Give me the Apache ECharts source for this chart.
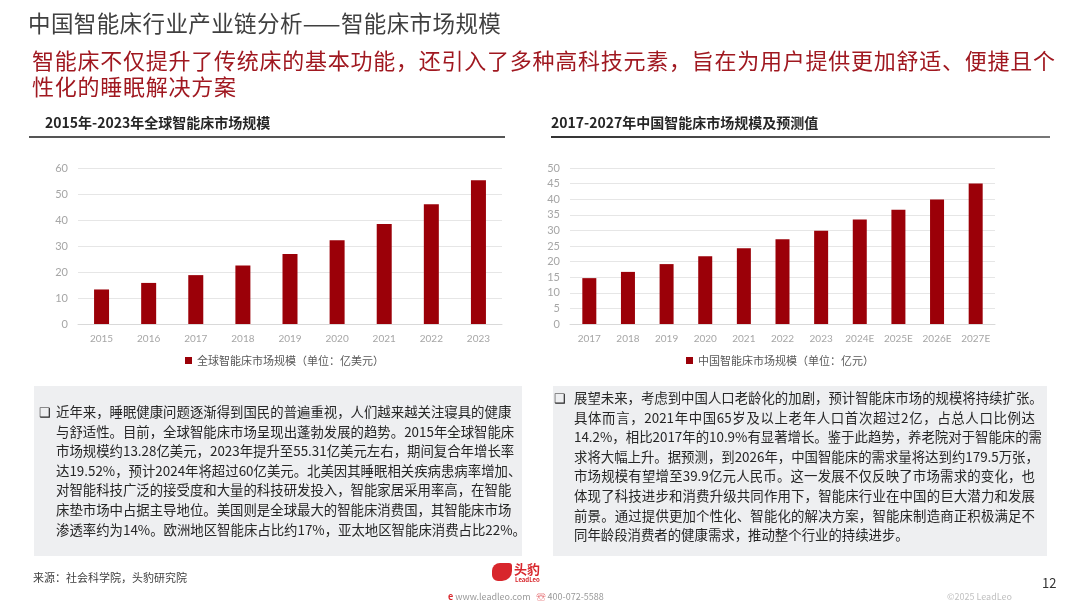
<!DOCTYPE html>
<html><head><meta charset="utf-8">
<script src="https://cdn.jsdelivr.net/npm/echarts@6/dist/echarts.min.js"></script>
<style>
html,body{margin:0;padding:0;width:1080px;height:608px;background:#fff;overflow:hidden;font-family:"Noto Sans CJK SC","Noto Sans",sans-serif;}
#chart{position:absolute;left:0;top:0;width:1080px;height:608px;}
.abs{position:absolute;white-space:nowrap;}
.title{left:28px;top:7px;font-size:22.5px;letter-spacing:0.4px;color:#404040;line-height:30px;}
.sub{left:32px;top:46px;font-size:22px;letter-spacing:0.75px;color:#a01820;line-height:26px;}
.sec{font-size:14px;font-weight:bold;color:#262626;line-height:18px;top:113px;}
.uline{height:2px;background:#555;top:136px;}
.box{background:#eeeff1;top:386px;height:170px;}
.txt{font-size:13.4px;color:#262626;line-height:19.6px;}
.txt div{text-align:justify;text-align-last:justify;white-space:nowrap;}
.txt div.last{text-align-last:left;}
.bul{font-size:13px;color:#262626;}
.foot{font-size:11px;color:#404040;}
</style></head>
<body>
<div id="chart"></div>
<div class="abs title">中国智能床行业产业链分析——智能床市场规模</div>
<div class="abs sub">智能床不仅提升了传统床的基本功能，还引入了多种高科技元素，旨在为用户提供更加舒适、便捷且个<br>性化的睡眠解决方案</div>
<div class="abs sec" style="left:45px;">2015年-2023年全球智能床市场规模</div>
<div class="abs sec" style="left:551px;">2017-2027年中国智能床市场规模及预测值</div>
<div class="abs uline" style="left:29px;width:476px;"></div>
<div class="abs uline" style="left:551px;width:499px;background:linear-gradient(90deg,#333,#777);"></div>

<div class="abs box" style="left:34px;width:488px;"></div>
<div class="abs box" style="left:553px;width:494px;"></div>
<div class="abs bul" style="left:39px;top:402px;">❑</div>
<div class="abs bul" style="left:554px;top:388px;">❑</div>
<div class="abs txt" id="lt" style="left:56px;top:402px;width:452px;"></div>
<div class="abs txt" id="rt" style="left:574px;top:388px;width:461px;"></div>

<div class="abs foot" style="left:33px;top:569px;">来源：社会科学院，头豹研究院</div>
<div class="abs" style="left:492px;top:563px;width:20px;height:18px;background:#d8262c;border-radius:8px 3px 10px 6px;"></div>
<div class="abs" style="left:514px;top:561px;font-size:13px;font-weight:bold;color:#d8262c;line-height:15px;">头豹</div>
<div class="abs" style="left:515px;top:576px;font-size:6px;font-weight:bold;color:#d8262c;line-height:8px;">LeadLeo</div>
<div class="abs" style="left:448px;top:591px;font-size:9px;color:#999;line-height:12px;"><span style="color:#d8262c;font-weight:bold;">e</span> www.leadleo.com &nbsp;&nbsp;<span style="color:#d8262c;">☏</span> 400-072-5588</div>
<div class="abs" style="left:947px;top:591px;font-size:9px;color:#c0c0c0;line-height:12px;">©2025 LeadLeo</div>
<div class="abs" style="left:1042px;top:575px;font-size:13px;color:#333;line-height:16px;">12</div>

<script>
// ---- data ----
const globalYears = ['2015','2016','2017','2018','2019','2020','2021','2022','2023'];
const globalValues = [13.28, 15.8, 18.8, 22.5, 26.9, 32.2, 38.5, 46.1, 55.31];
const globalLegend = '全球智能床市场规模（单位：亿美元）';
const chinaYears = ['2017','2018','2019','2020','2021','2022','2023','2024E','2025E','2026E','2027E'];
const chinaValues = [14.7, 16.7, 19.2, 21.7, 24.3, 27.2, 29.9, 33.5, 36.6, 39.9, 45.0];
const chinaLegend = '中国智能床市场规模（单位：亿元）';
const leftTicks = {min:0, max:60, interval:10};
const rightTicks = {min:0, max:50, interval:5};
const leftText = [
'近年来，睡眠健康问题逐渐得到国民的普遍重视，人们越来越关注寝具的健康',
'与舒适性。目前，全球智能床市场呈现出蓬勃发展的趋势。2015年全球智能床',
'市场规模约13.28亿美元，2023年提升至55.31亿美元左右，期间复合年增长率',
'达19.52%，预计2024年将超过60亿美元。北美因其睡眠相关疾病患病率增加、',
'对智能科技广泛的接受度和大量的科技研发投入，智能家居采用率高，在智能',
'床垫市场中占据主导地位。美国则是全球最大的智能床消费国，其智能床市场',
'渗透率约为14%。欧洲地区智能床占比约17%，亚太地区智能床消费占比22%。'];
const rightText = [
'展望未来，考虑到中国人口老龄化的加剧，预计智能床市场的规模将持续扩张。',
'具体而言，2021年中国65岁及以上老年人口首次超过2亿，占总人口比例达',
'14.2%，相比2017年的10.9%有显著增长。鉴于此趋势，养老院对于智能床的需',
'求将大幅上升。据预测，到2026年，中国智能床的需求量将达到约179.5万张，',
'市场规模有望增至39.9亿元人民币。这一发展不仅反映了市场需求的变化，也',
'体现了科技进步和消费升级共同作用下，智能床行业在中国的巨大潜力和发展',
'前景。通过提供更加个性化、智能化的解决方案，智能床制造商正积极满足不',
'同年龄段消费者的健康需求，推动整个行业的持续进步。'];

function fill(id, lines){
  const el = document.getElementById(id);
  lines.forEach((l,i)=>{
    const d = document.createElement('div');
    d.textContent = l;
    if(i===lines.length-1) d.className='last';
    el.appendChild(d);
  });
}
fill('lt', leftText); fill('rt', rightText);

const BAR = '#9b0008';
const axisFont = {color:'#a6a6a6', fontSize:11, fontFamily:'Lato, "Noto Sans", sans-serif'};
const chart = echarts.init(document.getElementById('chart'));
chart.setOption({
  animation:false,
  grid:[
    {left:78, right:578, top:168, bottom:284},
    {left:570, right:85, top:168, bottom:284}
  ],
  legend:[
    {data:[globalLegend], left:180, top:350, itemWidth:7, itemHeight:7, icon:'rect', itemGap:4,
     textStyle:{color:'#595959', fontSize:11, fontFamily:'"Noto Sans CJK SC"'}},
    {data:[chinaLegend], left:681, top:350, itemWidth:7, itemHeight:7, icon:'rect',
     textStyle:{color:'#595959', fontSize:11, fontFamily:'"Noto Sans CJK SC"'}}
  ],
  xAxis:[
    {type:'category', gridIndex:0, data:globalYears, axisTick:{show:false},
     axisLine:{lineStyle:{color:'#d9d9d9'}}, axisLabel:{margin:10, fontSize:10, color:'#a6a6a6', fontFamily:axisFont.fontFamily}},
    {type:'category', gridIndex:1, data:chinaYears, axisTick:{show:false},
     axisLine:{lineStyle:{color:'#d9d9d9'}}, axisLabel:{margin:10, fontSize:10, color:'#a6a6a6', fontFamily:axisFont.fontFamily}}
  ],
  yAxis:[
    {type:'value', gridIndex:0, min:leftTicks.min, max:leftTicks.max, interval:leftTicks.interval,
     axisLine:{show:false}, axisTick:{show:false}, axisLabel:Object.assign({margin:10}, axisFont),
     splitLine:{lineStyle:{color:'#e6e6e6'}}},
    {type:'value', gridIndex:1, min:rightTicks.min, max:rightTicks.max, interval:rightTicks.interval,
     axisLine:{show:false}, axisTick:{show:false}, axisLabel:Object.assign({margin:10}, axisFont),
     splitLine:{lineStyle:{color:'#e6e6e6'}}}
  ],
  series:[
    {name:globalLegend, type:'bar', xAxisIndex:0, yAxisIndex:0, data:globalValues, barWidth:15, itemStyle:{color:BAR}},
    {name:chinaLegend, type:'bar', xAxisIndex:1, yAxisIndex:1, data:chinaValues, barWidth:14, itemStyle:{color:BAR}}
  ]
});
</script>
</body></html>
